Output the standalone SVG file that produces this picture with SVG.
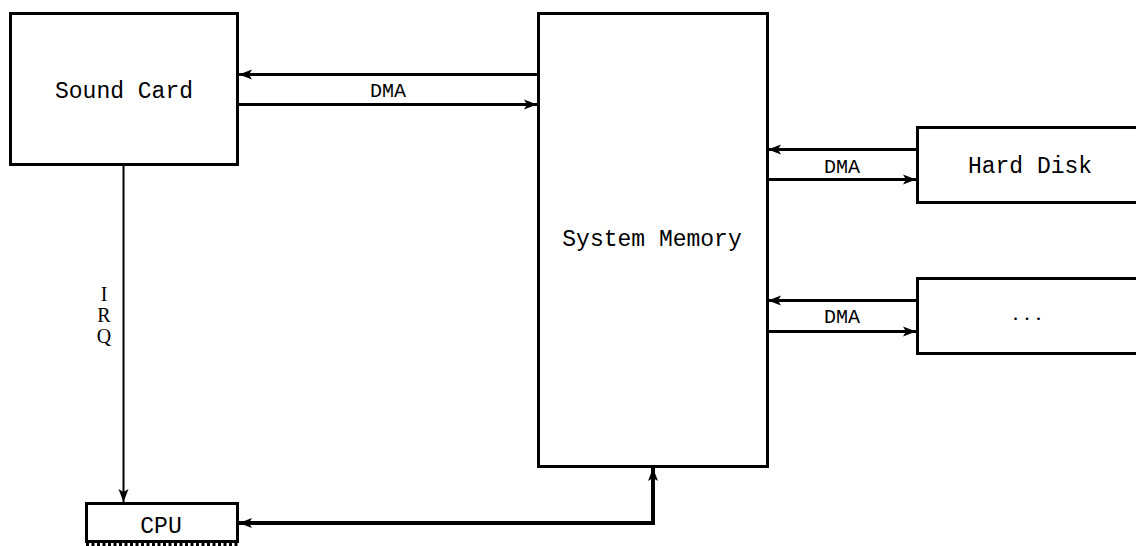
<svg xmlns="http://www.w3.org/2000/svg" width="1136" height="546" viewBox="0 0 1136 546">
<style>
.box{fill:#fff;stroke:#000;stroke-width:3}
.lbl{font-family:"Liberation Mono","DejaVu Sans Mono",monospace;font-size:23px;fill:#000;text-anchor:middle}
.dma{font-family:"Liberation Mono","DejaVu Sans Mono",monospace;font-size:20px;fill:#000;text-anchor:middle}
.ser{font-family:"Liberation Serif","DejaVu Serif",serif;font-size:22px;fill:#000;text-anchor:middle}
.ln{fill:none;stroke:#000;stroke-width:3}
.thick{fill:none;stroke:#000;stroke-width:4}
</style>
<defs>
<marker id="ah" markerUnits="userSpaceOnUse" markerWidth="14" markerHeight="12" viewBox="0 0 14 12" refX="13" refY="6" orient="auto-start-reverse">
<path d="M0,1 L13,6 L0,11 L3,6 z" fill="#000"/>
</marker>
</defs>
<rect width="1136" height="546" fill="#fff"/>
<g id="sound-card">
<rect class="box" x="10.5" y="13.5" width="227" height="151"/>
<text class="lbl" x="124" y="98">Sound Card</text>
</g>
<g id="system-memory">
<rect class="box" x="538.5" y="13.5" width="229" height="453"/>
<text class="lbl" x="652" y="246">System Memory</text>
</g>
<g id="hard-disk">
<rect class="box" x="917.5" y="127.5" width="230" height="75"/>
<text class="lbl" x="1030" y="173">Hard Disk</text>
</g>
<g id="other-device">
<rect class="box" x="917.5" y="278.5" width="230" height="75"/>
<text class="ser" x="1030" y="320" letter-spacing="6">...</text>
</g>
<g id="cpu">
<rect class="box" x="86.5" y="503.5" width="151" height="38"/>
<line x1="86" y1="544.5" x2="238" y2="544.5" stroke="#000" stroke-width="3" stroke-dasharray="3 2.5"/>
<text class="lbl" x="161" y="533">CPU</text>
</g>
<g id="connectors">
<line class="ln" x1="538" y1="74.5" x2="239" y2="74.5" marker-end="url(#ah)"/>
<line class="ln" x1="238" y1="104.5" x2="537" y2="104.5" marker-end="url(#ah)"/>
<text class="dma" x="388" y="97">DMA</text>
<line class="ln" x1="917" y1="149.5" x2="768" y2="149.5" marker-end="url(#ah)"/>
<line class="ln" x1="767" y1="179.5" x2="916" y2="179.5" marker-end="url(#ah)"/>
<text class="dma" x="842" y="173">DMA</text>
<line class="ln" x1="917" y1="300.5" x2="768" y2="300.5" marker-end="url(#ah)"/>
<line class="ln" x1="767" y1="331.5" x2="916" y2="331.5" marker-end="url(#ah)"/>
<text class="dma" x="842" y="323">DMA</text>
<line x1="123.5" y1="165" x2="123.5" y2="502" stroke="#000" stroke-width="2" marker-end="url(#ah)"/>
<text class="ser" style="font-size:20px"><tspan x="104" y="301">I</tspan><tspan x="104" y="322">R</tspan><tspan x="104" y="343">Q</tspan></text>
<path class="thick" d="M239,523 H653 V468" marker-start="url(#ah)" marker-end="url(#ah)"/>
</g>
</svg>
